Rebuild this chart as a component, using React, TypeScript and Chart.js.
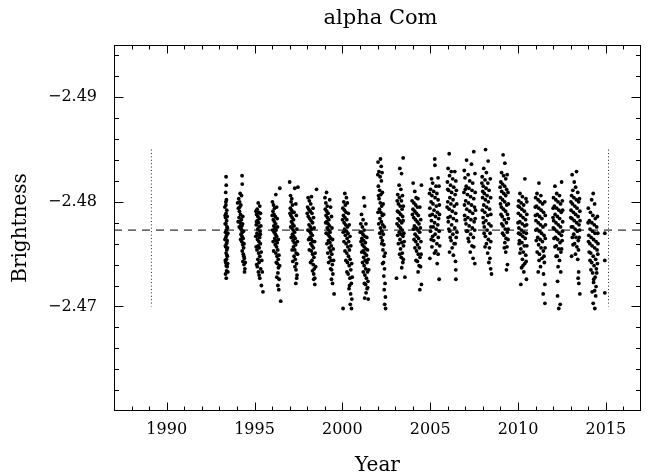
import { useEffect, useRef } from "react";
import { Chart, registerables } from "chart.js";

Chart.register(...registerables);

type Obs = [number, number];

const FONT = '"DejaVu Serif", "Liberation Serif", serif';

const chartTitle = "alpha Com";
const xAxisTitle = "Year";
const yAxisTitle = "Brightness";

const xLimits = [1987, 2017];
const yLimits = [-2.495, -2.46];
const xTickValues = [1990, 1995, 2000, 2005, 2010, 2015];
const yTickValues = [-2.49, -2.48, -2.47];

const meanBrightness = -2.4773;
const markerYears = [1989.13, 2015.15];
const markerSpan = [-2.485, -2.47];

const s1993: Obs[] = [[1993.38,-2.4824],[1993.39,-2.4816],[1993.36,-2.4809],[1993.40,-2.4802],[1993.37,-2.4797],[1993.42,-2.4792],[1993.38,-2.4789],[1993.35,-2.4785],[1993.41,-2.4782],[1993.37,-2.4779],[1993.43,-2.4776],[1993.39,-2.4773],[1993.35,-2.4771],[1993.41,-2.4768],[1993.37,-2.4766],[1993.44,-2.4763],[1993.40,-2.4760],[1993.36,-2.4757],[1993.42,-2.4754],[1993.38,-2.4751],[1993.45,-2.4748],[1993.40,-2.4745],[1993.36,-2.4742],[1993.44,-2.4738],[1993.41,-2.4734],[1993.35,-2.4731],[1993.39,-2.4727],[1993.47,-2.4741],[1993.33,-2.4787],[1993.46,-2.4775],[1993.34,-2.4758],
  [1993.31,-2.4795],[1993.44,-2.4786],[1993.33,-2.4779],[1993.48,-2.4770],[1993.32,-2.4764],[1993.46,-2.4756],[1993.43,-2.4749],[1993.34,-2.4744],[1993.48,-2.4733],[1993.37,-2.4800],[1993.42,-2.4761],[1993.39,-2.4739]];
const s1994: Obs[] = [[1994.29,-2.4825],[1994.30,-2.4817],[1994.18,-2.4808],[1994.10,-2.4803],[1994.15,-2.4800],[1994.22,-2.4797],[1994.08,-2.4794],[1994.14,-2.4791],[1994.20,-2.4788],[1994.12,-2.4785],[1994.25,-2.4783],[1994.17,-2.4781],[1994.22,-2.4779],[1994.28,-2.4777],[1994.19,-2.4775],[1994.26,-2.4773],[1994.31,-2.4771],[1994.23,-2.4769],[1994.29,-2.4767],[1994.35,-2.4765],[1994.27,-2.4762],[1994.33,-2.4759],[1994.38,-2.4756],[1994.30,-2.4753],[1994.36,-2.4750],[1994.42,-2.4746],[1994.34,-2.4743],[1994.40,-2.4740],[1994.45,-2.4736],[1994.43,-2.4733],[1994.39,-2.4748],
  [1994.04,-2.4799],[1994.26,-2.4806],[1994.16,-2.4795],[1994.33,-2.4786],[1994.07,-2.4781],[1994.24,-2.4774],[1994.37,-2.4772],[1994.21,-2.4764],[1994.40,-2.4760],[1994.32,-2.4779],[1994.13,-2.4776],[1994.47,-2.4742]];
const s1995: Obs[] = [[1995.21,-2.4799],[1995.30,-2.4796],[1995.15,-2.4793],[1995.24,-2.4790],[1995.12,-2.4788],[1995.19,-2.4786],[1995.28,-2.4784],[1995.16,-2.4782],[1995.23,-2.4780],[1995.10,-2.4778],[1995.26,-2.4776],[1995.18,-2.4774],[1995.31,-2.4772],[1995.14,-2.4770],[1995.22,-2.4768],[1995.29,-2.4766],[1995.17,-2.4764],[1995.25,-2.4762],[1995.33,-2.4760],[1995.20,-2.4758],[1995.27,-2.4756],[1995.14,-2.4754],[1995.23,-2.4751],[1995.30,-2.4748],[1995.19,-2.4745],[1995.26,-2.4742],[1995.12,-2.4740],[1995.35,-2.4736],[1995.22,-2.4733],[1995.30,-2.4727],[1995.39,-2.4720],[1995.48,-2.4714],
  [1995.08,-2.4791],[1995.34,-2.4789],[1995.11,-2.4781],[1995.36,-2.4777],[1995.07,-2.4767],[1995.33,-2.4769],[1995.09,-2.4757],[1995.38,-2.4752],[1995.16,-2.4738],[1995.41,-2.4744],[1995.26,-2.4730],[1995.44,-2.4733]];
const s1996: Obs[] = [[1996.44,-2.4813],[1996.21,-2.4807],[1996.02,-2.4800],[1996.08,-2.4797],[1996.14,-2.4794],[1996.05,-2.4791],[1996.11,-2.4788],[1996.18,-2.4786],[1996.07,-2.4783],[1996.13,-2.4781],[1996.20,-2.4779],[1996.10,-2.4777],[1996.16,-2.4775],[1996.23,-2.4773],[1996.12,-2.4771],[1996.19,-2.4769],[1996.26,-2.4767],[1996.15,-2.4765],[1996.22,-2.4763],[1996.29,-2.4761],[1996.18,-2.4759],[1996.25,-2.4757],[1996.32,-2.4754],[1996.21,-2.4751],[1996.28,-2.4748],[1996.35,-2.4745],[1996.30,-2.4741],[1996.36,-2.4737],[1996.33,-2.4732],[1996.40,-2.4726],[1996.33,-2.4720],[1996.38,-2.4716],[1996.49,-2.4705],
  [1996.26,-2.4795],[1996.01,-2.4787],[1996.29,-2.4784],[1996.03,-2.4773],[1996.31,-2.4776],[1996.06,-2.4762],[1996.35,-2.4764],[1996.09,-2.4753],[1996.39,-2.4749],[1996.24,-2.4742],[1996.43,-2.4739],[1996.27,-2.4728]];
const s1997: Obs[] = [[1997.00,-2.4819],[1997.29,-2.4813],[1997.47,-2.4814],[1997.05,-2.4806],[1997.12,-2.4803],[1997.08,-2.4800],[1997.16,-2.4797],[1997.04,-2.4794],[1997.11,-2.4792],[1997.19,-2.4790],[1997.07,-2.4787],[1997.14,-2.4785],[1997.22,-2.4783],[1997.10,-2.4781],[1997.17,-2.4779],[1997.25,-2.4777],[1997.13,-2.4775],[1997.20,-2.4773],[1997.28,-2.4771],[1997.16,-2.4769],[1997.23,-2.4767],[1997.31,-2.4765],[1997.19,-2.4763],[1997.26,-2.4761],[1997.34,-2.4759],[1997.22,-2.4757],[1997.29,-2.4754],[1997.37,-2.4751],[1997.25,-2.4748],[1997.32,-2.4745],[1997.39,-2.4741],[1997.36,-2.4735],[1997.42,-2.4730],[1997.40,-2.4727],[1997.35,-2.4722],
  [1997.35,-2.4798],[1997.02,-2.4789],[1997.38,-2.4787],[1997.06,-2.4776],[1997.41,-2.4774],[1997.09,-2.4766],[1997.44,-2.4762],[1997.14,-2.4754],[1997.45,-2.4750],[1997.18,-2.4743],[1997.30,-2.4738],[1997.25,-2.4790]];
const s1998: Obs[] = [[1998.53,-2.4812],[1998.24,-2.4805],[1998.05,-2.4804],[1998.12,-2.4801],[1998.20,-2.4798],[1998.02,-2.4795],[1998.09,-2.4793],[1998.17,-2.4791],[1998.27,-2.4789],[1998.06,-2.4786],[1998.14,-2.4784],[1998.22,-2.4782],[1998.30,-2.4780],[1998.10,-2.4778],[1998.18,-2.4776],[1998.25,-2.4774],[1998.13,-2.4772],[1998.21,-2.4770],[1998.29,-2.4768],[1998.16,-2.4766],[1998.24,-2.4764],[1998.32,-2.4762],[1998.20,-2.4760],[1998.28,-2.4758],[1998.35,-2.4756],[1998.23,-2.4753],[1998.31,-2.4750],[1998.38,-2.4747],[1998.27,-2.4744],[1998.34,-2.4740],[1998.40,-2.4736],[1998.37,-2.4731],[1998.43,-2.4727],[1998.37,-2.4726],[1998.43,-2.4721],
  [1998.33,-2.4794],[1998.00,-2.4789],[1998.36,-2.4785],[1998.04,-2.4773],[1998.39,-2.4775],[1998.08,-2.4764],[1998.42,-2.4762],[1998.12,-2.4754],[1998.45,-2.4751],[1998.19,-2.4742],[1998.48,-2.4738],[1998.30,-2.4734]];
const s1999: Obs[] = [[1999.10,-2.4809],[1999.01,-2.4804],[1999.28,-2.4802],[1999.06,-2.4799],[1999.14,-2.4796],[1999.03,-2.4793],[1999.11,-2.4791],[1999.19,-2.4789],[1999.07,-2.4787],[1999.15,-2.4785],[1999.23,-2.4783],[1999.11,-2.4781],[1999.19,-2.4779],[1999.27,-2.4777],[1999.14,-2.4775],[1999.22,-2.4773],[1999.30,-2.4771],[1999.18,-2.4769],[1999.26,-2.4767],[1999.34,-2.4765],[1999.21,-2.4763],[1999.29,-2.4761],[1999.37,-2.4758],[1999.25,-2.4756],[1999.33,-2.4753],[1999.40,-2.4750],[1999.28,-2.4747],[1999.36,-2.4744],[1999.43,-2.4740],[1999.39,-2.4735],[1999.46,-2.4731],[1999.38,-2.4726],[1999.44,-2.4722],[1999.53,-2.4712],
  [1999.33,-2.4795],[1999.05,-2.4780],[1999.38,-2.4786],[1999.08,-2.4770],[1999.41,-2.4775],[1999.12,-2.4760],[1999.44,-2.4764],[1999.17,-2.4751],[1999.48,-2.4755],[1999.22,-2.4742],[1999.50,-2.4744],[1999.33,-2.4736]];
const s2000: Obs[] = [[2000.14,-2.4808],[2000.23,-2.4804],[2000.08,-2.4800],[2000.17,-2.4797],[2000.03,-2.4794],[2000.12,-2.4792],[2000.21,-2.4790],[2000.06,-2.4787],[2000.15,-2.4785],[2000.25,-2.4783],[2000.10,-2.4780],[2000.19,-2.4778],[2000.29,-2.4776],[2000.13,-2.4774],[2000.23,-2.4772],[2000.32,-2.4770],[2000.17,-2.4768],[2000.27,-2.4765],[2000.36,-2.4762],[2000.21,-2.4760],[2000.31,-2.4757],[2000.40,-2.4754],[2000.25,-2.4751],[2000.35,-2.4748],[2000.44,-2.4745],[2000.29,-2.4742],[2000.39,-2.4739],[2000.48,-2.4735],[2000.33,-2.4731],[2000.43,-2.4727],[2000.51,-2.4722],[2000.38,-2.4717],[2000.47,-2.4712],[2000.54,-2.4707],[2000.04,-2.4698],[2000.52,-2.4698],[2000.45,-2.4702],
  [2000.28,-2.4799],[2000.01,-2.4783],[2000.34,-2.4789],[2000.05,-2.4771],[2000.39,-2.4778],[2000.09,-2.4762],[2000.43,-2.4767],[2000.15,-2.4753],[2000.48,-2.4758],[2000.20,-2.4744],[2000.53,-2.4741],[2000.26,-2.4733],[2000.56,-2.4728],[2000.41,-2.4720]];
const s2001: Obs[] = [[2001.22,-2.4804],[2001.27,-2.4796],[2001.09,-2.4788],[2001.18,-2.4783],[2001.05,-2.4779],[2001.14,-2.4776],[2001.24,-2.4773],[2001.08,-2.4771],[2001.17,-2.4769],[2001.28,-2.4767],[2001.11,-2.4765],[2001.21,-2.4763],[2001.31,-2.4761],[2001.14,-2.4759],[2001.24,-2.4757],[2001.34,-2.4755],[2001.18,-2.4753],[2001.27,-2.4751],[2001.37,-2.4749],[2001.21,-2.4747],[2001.30,-2.4744],[2001.40,-2.4742],[2001.24,-2.4739],[2001.33,-2.4736],[2001.43,-2.4733],[2001.28,-2.4730],[2001.37,-2.4727],[2001.46,-2.4724],[2001.32,-2.4721],[2001.41,-2.4717],[2001.35,-2.4713],[2001.47,-2.4707],[2001.27,-2.4708],
  [2001.02,-2.4771],[2001.34,-2.4779],[2001.06,-2.4762],[2001.39,-2.4766],[2001.10,-2.4752],[2001.43,-2.4754],[2001.15,-2.4742],[2001.47,-2.4745],[2001.19,-2.4733],[2001.50,-2.4735],[2001.25,-2.4722],[2001.44,-2.4718]];
const s2002: Obs[] = [[2002.17,-2.4841],[2002.03,-2.4838],[2002.21,-2.4834],[2002.08,-2.4829],[2002.15,-2.4824],[2002.22,-2.4820],[2002.05,-2.4815],[2002.12,-2.4811],[2002.19,-2.4807],[2002.09,-2.4803],[2002.16,-2.4799],[2002.24,-2.4796],[2002.11,-2.4793],[2002.19,-2.4790],[2002.27,-2.4787],[2002.14,-2.4784],[2002.22,-2.4781],[2002.30,-2.4778],[2002.17,-2.4775],[2002.25,-2.4772],[2002.33,-2.4769],[2002.20,-2.4766],[2002.28,-2.4763],[2002.36,-2.4759],[2002.31,-2.4754],[2002.38,-2.4748],[2002.34,-2.4742],[2002.40,-2.4736],[2002.36,-2.4729],[2002.43,-2.4722],[2002.38,-2.4716],[2002.45,-2.4709],[2002.41,-2.4702],[2002.46,-2.4698],
  [2002.02,-2.4826],[2002.26,-2.4828],[2002.06,-2.4806],[2002.28,-2.4809],[2002.03,-2.4790],[2002.32,-2.4798],[2002.07,-2.4779],[2002.35,-2.4788],[2002.13,-2.4770],[2002.39,-2.4776],[2002.24,-2.4760],[2002.44,-2.4751],[2002.29,-2.4741]];
const s2003: Obs[] = [[2003.46,-2.4842],[2003.27,-2.4832],[2003.37,-2.4827],[2003.23,-2.4816],[2003.33,-2.4812],[2003.15,-2.4807],[2003.25,-2.4804],[2003.36,-2.4801],[2003.19,-2.4798],[2003.29,-2.4796],[2003.40,-2.4793],[2003.22,-2.4790],[2003.32,-2.4788],[2003.43,-2.4786],[2003.17,-2.4784],[2003.27,-2.4782],[2003.38,-2.4780],[2003.21,-2.4777],[2003.31,-2.4775],[2003.41,-2.4773],[2003.24,-2.4771],[2003.34,-2.4769],[2003.45,-2.4767],[2003.28,-2.4764],[2003.38,-2.4761],[2003.48,-2.4758],[2003.31,-2.4755],[2003.41,-2.4751],[2003.35,-2.4747],[2003.44,-2.4742],[2003.38,-2.4737],[2003.08,-2.4727],[2003.56,-2.4728],
  [2003.12,-2.4801],[2003.42,-2.4806],[2003.14,-2.4791],[2003.47,-2.4796],[2003.11,-2.4779],[2003.46,-2.4782],[2003.15,-2.4768],[2003.50,-2.4770],[2003.19,-2.4760],[2003.52,-2.4762],[2003.26,-2.4750],[2003.47,-2.4745]];
const s2004: Obs[] = [[2004.03,-2.4818],[2004.50,-2.4816],[2004.12,-2.4810],[2004.20,-2.4804],[2003.97,-2.4801],[2004.07,-2.4799],[2004.17,-2.4797],[2004.27,-2.4795],[2004.02,-2.4793],[2004.12,-2.4791],[2004.22,-2.4789],[2004.32,-2.4787],[2004.06,-2.4785],[2004.16,-2.4783],[2004.26,-2.4781],[2004.36,-2.4779],[2004.10,-2.4777],[2004.20,-2.4775],[2004.30,-2.4773],[2004.40,-2.4771],[2004.14,-2.4769],[2004.24,-2.4767],[2004.34,-2.4765],[2004.18,-2.4762],[2004.28,-2.4759],[2004.38,-2.4756],[2004.22,-2.4753],[2004.32,-2.4750],[2004.42,-2.4747],[2004.27,-2.4743],[2004.37,-2.4739],[2004.31,-2.4733],[2004.50,-2.4721],[2004.41,-2.4716],
  [2004.30,-2.4803],[2004.41,-2.4795],[2003.99,-2.4788],[2004.46,-2.4783],[2004.04,-2.4774],[2004.44,-2.4775],[2004.08,-2.4764],[2004.47,-2.4762],[2004.13,-2.4756],[2004.48,-2.4750],[2004.19,-2.4744],[2004.45,-2.4738]];
const s2005: Obs[] = [[2005.26,-2.4841],[2005.27,-2.4835],[2005.08,-2.4822],[2005.45,-2.4823],[2005.14,-2.4818],[2005.33,-2.4815],[2005.02,-2.4812],[2005.20,-2.4810],[2005.38,-2.4808],[2005.10,-2.4806],[2005.28,-2.4804],[2005.45,-2.4802],[2005.05,-2.4800],[2005.16,-2.4798],[2005.35,-2.4796],[2004.98,-2.4794],[2005.22,-2.4792],[2005.41,-2.4790],[2005.12,-2.4788],[2005.30,-2.4786],[2005.48,-2.4784],[2005.07,-2.4782],[2005.25,-2.4780],[2005.43,-2.4778],[2005.17,-2.4776],[2005.34,-2.4774],[2005.02,-2.4772],[2005.28,-2.4769],[2005.46,-2.4766],[2005.20,-2.4763],[2005.38,-2.4760],[2005.10,-2.4757],[2005.32,-2.4753],[2004.98,-2.4746],[2005.40,-2.4741],[2005.51,-2.4726],
  [2005.50,-2.4815],[2004.96,-2.4808],[2005.52,-2.4797],[2004.99,-2.4787],[2005.53,-2.4788],[2005.04,-2.4776],[2005.51,-2.4772],[2005.14,-2.4767],[2005.54,-2.4758],[2005.24,-2.4751],[2005.45,-2.4750],[2005.06,-2.4764]];
const s2006: Obs[] = [[2006.08,-2.4846],[2006.02,-2.4832],[2006.20,-2.4829],[2006.40,-2.4829],[2006.10,-2.4825],[2006.28,-2.4822],[2005.98,-2.4819],[2006.16,-2.4816],[2006.34,-2.4814],[2006.05,-2.4811],[2006.22,-2.4809],[2006.42,-2.4807],[2006.12,-2.4804],[2006.30,-2.4802],[2006.00,-2.4800],[2006.18,-2.4798],[2006.37,-2.4796],[2006.08,-2.4793],[2006.26,-2.4791],[2006.45,-2.4789],[2006.14,-2.4786],[2006.32,-2.4784],[2006.03,-2.4781],[2006.22,-2.4778],[2006.40,-2.4775],[2006.11,-2.4772],[2006.29,-2.4769],[2006.48,-2.4766],[2006.19,-2.4763],[2006.36,-2.4760],[2006.25,-2.4756],[2006.10,-2.4752],[2006.44,-2.4743],[2006.46,-2.4735],[2006.46,-2.4726],
  [2006.46,-2.4820],[2006.00,-2.4812],[2006.49,-2.4811],[2005.96,-2.4795],[2006.51,-2.4798],[2006.02,-2.4785],[2006.50,-2.4782],[2006.06,-2.4774],[2006.52,-2.4771],[2006.14,-2.4766],[2006.42,-2.4760],[2006.32,-2.4749]];
const s2007: Obs[] = [[2007.48,-2.4848],[2007.07,-2.4840],[2007.35,-2.4836],[2007.16,-2.4826],[2006.98,-2.4823],[2007.25,-2.4820],[2007.42,-2.4818],[2007.05,-2.4815],[2007.20,-2.4813],[2007.38,-2.4811],[2006.92,-2.4809],[2007.12,-2.4807],[2007.30,-2.4805],[2007.48,-2.4803],[2007.02,-2.4801],[2007.18,-2.4799],[2007.35,-2.4797],[2007.52,-2.4795],[2007.08,-2.4793],[2007.25,-2.4791],[2007.42,-2.4789],[2006.96,-2.4787],[2007.14,-2.4785],[2007.32,-2.4783],[2007.50,-2.4781],[2007.04,-2.4779],[2007.22,-2.4777],[2007.40,-2.4775],[2007.12,-2.4772],[2007.30,-2.4769],[2007.46,-2.4766],[2007.20,-2.4762],[2007.38,-2.4758],[2007.28,-2.4752],[2007.44,-2.4746],[2007.54,-2.4741],
  [2006.94,-2.4830],[2007.55,-2.4827],[2007.00,-2.4812],[2007.56,-2.4809],[2006.95,-2.4797],[2007.58,-2.4792],[2006.99,-2.4783],[2007.56,-2.4784],[2007.07,-2.4772],[2007.53,-2.4773],[2007.16,-2.4765],[2007.48,-2.4757]];
const s2008: Obs[] = [[2008.15,-2.4850],[2008.30,-2.4839],[2008.05,-2.4832],[2008.20,-2.4828],[2007.96,-2.4824],[2008.12,-2.4821],[2008.28,-2.4818],[2008.02,-2.4815],[2008.18,-2.4813],[2008.35,-2.4811],[2008.08,-2.4808],[2008.24,-2.4806],[2007.98,-2.4804],[2008.14,-2.4802],[2008.31,-2.4800],[2008.05,-2.4797],[2008.21,-2.4795],[2008.38,-2.4793],[2008.11,-2.4790],[2008.27,-2.4787],[2008.01,-2.4785],[2008.17,-2.4782],[2008.34,-2.4779],[2008.08,-2.4776],[2008.24,-2.4773],[2008.41,-2.4770],[2008.14,-2.4767],[2008.31,-2.4764],[2008.20,-2.4760],[2008.37,-2.4756],[2008.27,-2.4751],[2008.40,-2.4746],[2008.44,-2.4736],[2008.49,-2.4731],
  [2007.94,-2.4818],[2008.42,-2.4822],[2007.99,-2.4810],[2008.44,-2.4804],[2007.97,-2.4792],[2008.45,-2.4788],[2008.03,-2.4780],[2008.46,-2.4777],[2008.07,-2.4770],[2008.45,-2.4762],[2008.12,-2.4757],[2008.34,-2.4742]];
const s2009: Obs[] = [[2009.15,-2.4845],[2009.25,-2.4837],[2009.06,-2.4828],[2009.18,-2.4825],[2009.30,-2.4822],[2009.02,-2.4819],[2009.12,-2.4817],[2009.24,-2.4815],[2009.35,-2.4812],[2009.07,-2.4810],[2009.19,-2.4808],[2009.30,-2.4806],[2009.00,-2.4804],[2009.12,-2.4802],[2009.24,-2.4800],[2009.36,-2.4797],[2009.05,-2.4795],[2009.17,-2.4793],[2009.29,-2.4791],[2009.40,-2.4788],[2009.10,-2.4786],[2009.22,-2.4783],[2009.34,-2.4780],[2009.15,-2.4777],[2009.27,-2.4774],[2009.39,-2.4771],[2009.20,-2.4768],[2009.32,-2.4765],[2009.25,-2.4761],[2009.37,-2.4757],[2009.30,-2.4752],[2009.40,-2.4740],[2009.34,-2.4735],
  [2009.38,-2.4826],[2008.98,-2.4814],[2009.43,-2.4809],[2009.00,-2.4798],[2009.45,-2.4798],[2009.03,-2.4788],[2009.45,-2.4784],[2009.07,-2.4779],[2009.44,-2.4774],[2009.12,-2.4770],[2009.43,-2.4764],[2009.22,-2.4756]];
const s2010: Obs[] = [[2010.39,-2.4822],[2010.11,-2.4808],[2010.25,-2.4805],[2010.45,-2.4803],[2010.04,-2.4801],[2010.18,-2.4799],[2010.32,-2.4797],[2010.08,-2.4795],[2010.22,-2.4793],[2010.36,-2.4791],[2010.02,-2.4789],[2010.15,-2.4787],[2010.29,-2.4785],[2010.43,-2.4783],[2010.10,-2.4781],[2010.24,-2.4779],[2010.38,-2.4777],[2010.05,-2.4775],[2010.19,-2.4773],[2010.33,-2.4771],[2010.13,-2.4769],[2010.27,-2.4767],[2010.41,-2.4765],[2010.08,-2.4763],[2010.22,-2.4761],[2010.36,-2.4758],[2010.16,-2.4755],[2010.30,-2.4752],[2010.44,-2.4749],[2010.25,-2.4745],[2010.38,-2.4741],[2010.20,-2.4737],[2010.33,-2.4733],[2010.48,-2.4726],[2010.16,-2.4721],
  [2010.50,-2.4800],[2010.01,-2.4796],[2010.50,-2.4788],[2010.00,-2.4780],[2010.49,-2.4778],[2010.03,-2.4770],[2010.47,-2.4770],[2010.06,-2.4760],[2010.50,-2.4758],[2010.11,-2.4751],[2010.46,-2.4743],[2010.28,-2.4739]];
const s2011: Obs[] = [[2011.19,-2.4818],[2011.08,-2.4808],[2011.30,-2.4806],[2011.00,-2.4804],[2011.14,-2.4802],[2011.26,-2.4800],[2011.40,-2.4798],[2011.05,-2.4796],[2011.18,-2.4794],[2011.32,-2.4792],[2011.45,-2.4790],[2011.10,-2.4788],[2011.23,-2.4786],[2011.36,-2.4784],[2011.02,-2.4782],[2011.15,-2.4780],[2011.28,-2.4778],[2011.42,-2.4776],[2011.08,-2.4774],[2011.21,-2.4772],[2011.34,-2.4770],[2011.48,-2.4768],[2011.12,-2.4766],[2011.26,-2.4764],[2011.39,-2.4762],[2011.17,-2.4759],[2011.31,-2.4756],[2011.44,-2.4753],[2011.22,-2.4750],[2011.36,-2.4746],[2011.50,-2.4742],[2011.28,-2.4738],[2011.15,-2.4733],[2011.45,-2.4731],[2011.53,-2.4721],[2011.43,-2.4712],[2011.53,-2.4703],
  [2011.52,-2.4800],[2010.98,-2.4795],[2011.55,-2.4787],[2010.99,-2.4787],[2011.56,-2.4778],[2011.01,-2.4773],[2011.55,-2.4765],[2011.04,-2.4763],[2011.54,-2.4756],[2011.09,-2.4752],[2011.48,-2.4748],[2011.20,-2.4744]];
const s2012: Obs[] = [[2012.48,-2.4819],[2012.10,-2.4815],[2012.20,-2.4808],[2012.36,-2.4806],[2012.02,-2.4804],[2012.15,-2.4802],[2012.28,-2.4800],[2012.42,-2.4798],[2012.07,-2.4796],[2012.20,-2.4794],[2012.33,-2.4792],[2012.46,-2.4790],[2012.11,-2.4788],[2012.24,-2.4786],[2012.37,-2.4784],[2012.03,-2.4782],[2012.16,-2.4780],[2012.29,-2.4778],[2012.42,-2.4776],[2012.08,-2.4774],[2012.21,-2.4772],[2012.34,-2.4770],[2012.47,-2.4768],[2012.13,-2.4766],[2012.26,-2.4764],[2012.39,-2.4761],[2012.18,-2.4758],[2012.31,-2.4755],[2012.44,-2.4752],[2012.23,-2.4748],[2012.36,-2.4744],[2012.28,-2.4738],[2012.43,-2.4733],[2012.25,-2.4724],[2012.25,-2.4710],[2012.40,-2.4702],[2012.32,-2.4698],
  [2012.52,-2.4801],[2012.00,-2.4794],[2012.54,-2.4792],[2011.99,-2.4785],[2012.54,-2.4781],[2012.01,-2.4775],[2012.53,-2.4772],[2012.05,-2.4765],[2012.51,-2.4763],[2012.10,-2.4757],[2012.48,-2.4755],[2012.17,-2.4748]];
const s2013: Obs[] = [[2013.33,-2.4829],[2013.08,-2.4826],[2013.20,-2.4819],[2013.28,-2.4814],[2013.12,-2.4811],[2013.40,-2.4809],[2013.05,-2.4806],[2013.18,-2.4804],[2013.32,-2.4802],[2013.45,-2.4800],[2013.10,-2.4798],[2013.23,-2.4796],[2013.36,-2.4794],[2013.02,-2.4792],[2013.15,-2.4790],[2013.28,-2.4788],[2013.42,-2.4786],[2013.07,-2.4784],[2013.20,-2.4782],[2013.34,-2.4780],[2013.47,-2.4778],[2013.12,-2.4776],[2013.25,-2.4774],[2013.38,-2.4772],[2013.17,-2.4769],[2013.30,-2.4766],[2013.43,-2.4763],[2013.22,-2.4760],[2013.35,-2.4757],[2013.05,-2.4748],[2013.40,-2.4745],[2013.45,-2.4733],[2013.42,-2.4727],[2013.46,-2.4722],[2013.52,-2.4712],
  [2013.50,-2.4803],[2013.01,-2.4800],[2013.52,-2.4791],[2013.00,-2.4785],[2013.53,-2.4782],[2013.04,-2.4776],[2013.51,-2.4773],[2013.09,-2.4766],[2013.48,-2.4766],[2013.13,-2.4759],[2013.44,-2.4754],[2013.27,-2.4750]];
const s2014: Obs[] = [[2014.28,-2.4808],[2014.19,-2.4802],[2014.36,-2.4798],[2014.00,-2.4794],[2014.12,-2.4790],[2014.26,-2.4787],[2014.40,-2.4784],[2014.06,-2.4782],[2014.20,-2.4780],[2014.34,-2.4778],[2014.48,-2.4776],[2014.10,-2.4774],[2014.24,-2.4772],[2014.38,-2.4770],[2014.03,-2.4768],[2014.16,-2.4766],[2014.30,-2.4764],[2014.44,-2.4762],[2014.09,-2.4760],[2014.22,-2.4758],[2014.36,-2.4756],[2014.50,-2.4754],[2014.14,-2.4751],[2014.28,-2.4748],[2014.42,-2.4745],[2014.19,-2.4742],[2014.33,-2.4739],[2014.46,-2.4736],[2014.25,-2.4732],[2014.39,-2.4728],[2014.30,-2.4723],[2014.44,-2.4719],[2014.36,-2.4715],[2014.22,-2.4714],[2014.42,-2.4710],[2014.28,-2.4703],[2014.37,-2.4698],[2014.94,-2.4770],[2014.94,-2.4744],[2014.94,-2.4713],
  [2014.52,-2.4786],[2013.99,-2.4780],[2014.54,-2.4770],[2014.01,-2.4762],[2014.55,-2.4760],[2014.05,-2.4752],[2014.54,-2.4750],[2014.10,-2.4744],[2014.52,-2.4741],[2014.15,-2.4735],[2014.48,-2.4732],[2014.31,-2.4726]];

const seasons: Obs[][] = [s1993, s1994, s1995, s1996, s1997, s1998, s1999, s2000, s2001, s2002, s2003, s2004, s2005, s2006, s2007, s2008, s2009, s2010, s2011, s2012, s2013, s2014];

const minus = (v: number, d: number) => (v < 0 ? "\u2212" : "") + Math.abs(v).toFixed(d);

const decorPlugin = {
  id: "decor",
  afterDraw(chart: any) {
    const { ctx, chartArea: a, scales } = chart;
    const xs = scales.x;
    const ys = scales.y;
    ctx.save();
    ctx.strokeStyle = "#000";
    ctx.lineWidth = 1;
    const L = Math.round(a.left) + 0.5;
    const R = Math.round(a.right) - 0.5;
    const T = Math.round(a.top) + 0.5;
    const B = Math.round(a.bottom) - 0.5;
    ctx.strokeRect(L, T, R - L, B - T);
    ctx.beginPath();
    for (let yr = Math.ceil(xLimits[0]) + 1; yr < xLimits[1]; yr++) {
      const px = Math.round(xs.getPixelForValue(yr)) + 0.5;
      const len = yr % 5 === 0 ? 8 : 4;
      ctx.moveTo(px, B); ctx.lineTo(px, B - len);
      ctx.moveTo(px, T); ctx.lineTo(px, T + len);
    }
    for (let m = -2494; m < -2460; m += 2) {
      const py = Math.round(ys.getPixelForValue(m / 1000)) + 0.5;
      const len = m % 10 === 0 ? 9 : 4.5;
      ctx.moveTo(L, py); ctx.lineTo(L + len, py);
      ctx.moveTo(R, py); ctx.lineTo(R - len, py);
    }
    ctx.stroke();

    ctx.fillStyle = "#000";
    ctx.font = `21px ${FONT}`;
    ctx.textAlign = "center";
    ctx.textBaseline = "alphabetic";
    ctx.fillText(chartTitle, (a.left + a.right) / 2 + 3, 24);
    ctx.font = `20px ${FONT}`;
    ctx.fillText(xAxisTitle, (a.left + a.right) / 2, 471);
    ctx.translate(26, (a.top + a.bottom) / 2);
    ctx.rotate(-Math.PI / 2);
    ctx.fillText(yAxisTitle, 0, 0);
    ctx.restore();
  },
};

export default function App() {
  const ref = useRef<HTMLCanvasElement | null>(null);
  useEffect(() => {
    if (!ref.current) return;
    const points = seasons.flat().map(([x, y]) => ({ x, y }));
    const chart = new Chart(ref.current, {
      type: "scatter",
      data: {
        datasets: [
          {
            label: "mean",
            data: [{ x: xLimits[0], y: meanBrightness }, { x: xLimits[1], y: meanBrightness }],
            showLine: true,
            borderColor: "#000",
            borderWidth: 1,
            borderDash: [8, 6],
            pointRadius: 0,
          },
          ...markerYears.map((yr) => ({
            label: "marker",
            data: [{ x: yr, y: markerSpan[0] }, { x: yr, y: markerSpan[1] }],
            showLine: true,
            borderColor: "#222",
            borderWidth: 1,
            borderDash: [1, 2.4],
            pointRadius: 0,
          })),
          {
            label: "alpha Com",
            data: points,
            backgroundColor: "#000",
            borderWidth: 0,
            pointRadius: 1.9,
          },
        ],
      },
      options: {
        animation: false,
        responsive: true,
        maintainAspectRatio: false,
        layout: { padding: { left: 0, top: 45, right: 11, bottom: 0 } },
        plugins: { legend: { display: false }, tooltip: { enabled: false }, title: { display: false } },
        scales: {
          x: {
            type: "linear",
            min: xLimits[0],
            max: xLimits[1],
            grid: { display: false, drawTicks: false },
            border: { display: false },
            afterBuildTicks: (s: any) => { s.ticks = xTickValues.map((v) => ({ value: v })); },
            afterFit: (s: any) => { s.height = 65; },
            ticks: {
              color: "#000",
              font: { family: FONT, size: 16 },
              padding: 9,
              maxRotation: 0,
              callback: (v: any) => String(v),
            },
          },
          y: {
            type: "linear",
            reverse: true,
            min: yLimits[0],
            max: yLimits[1],
            grid: { display: false, drawTicks: false },
            border: { display: false },
            afterBuildTicks: (s: any) => { s.ticks = yTickValues.map((v) => ({ value: v })); },
            afterFit: (s: any) => { s.width = 114; },
            ticks: {
              color: "#000",
              font: { family: FONT, size: 16 },
              padding: 17,
              callback: (v: any) => minus(Number(v), 2),
            },
          },
        },
      },
      plugins: [decorPlugin],
    } as any);
    return () => chart.destroy();
  }, []);
  return (
    <div style={{ position: "absolute", left: 0, top: 0, width: 652, height: 476, background: "#fff" }}>
      <canvas ref={ref} />
    </div>
  );
}
